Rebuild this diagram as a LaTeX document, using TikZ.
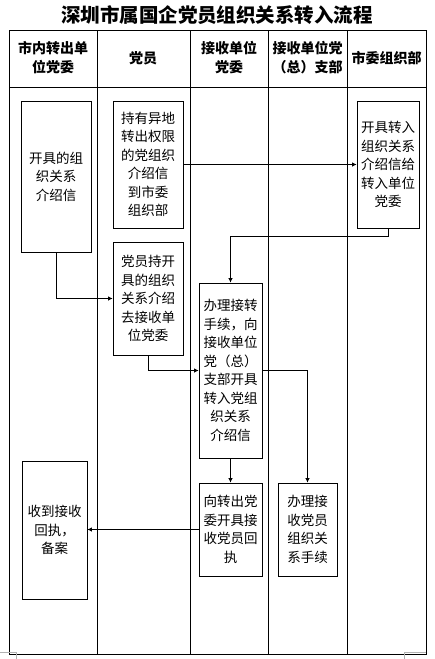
\documentclass[tikz,border=0pt]{standalone}
\usepackage{fontspec}
\setmainfont{Noto Sans CJK SC}
\usetikzlibrary{arrows.meta}
\tikzset{
  box/.style={draw, line width=0.8pt, inner sep=0pt, align=center, font=\fontsize{13.5}{18.5}\selectfont},
  hdr/.style={align=center, font=\bfseries\fontsize{14}{19}\selectfont, inner sep=0pt},
  arr/.style={line width=0.8pt, -{Latex[length=4.5pt,width=4.5pt]}},
  lane/.style={line width=0.8pt},
  cornermark/.style={draw=gray!60, line width=0.5pt}
}
\begin{document}
\begin{tikzpicture}[x=1pt,y=-1pt]
\useasboundingbox (0,0) rectangle (434,659);
\fill[white] (0,0) rectangle (434,659);
% title
\node[font=\bfseries\fontsize{19.5}{22}\selectfont, inner sep=0pt] (title) at (217,15) {深圳市属国企党员组织关系转入流程};
% lanes
\draw[lane] (9,30) rectangle (426,654);
\draw[lane] (9,87) -- (426,87);
\foreach \x in {97,190,268,347} \draw[lane] (\x,30) -- (\x,654);
% headers
\node[hdr] (h1) at (53,58) {市内转出单\\位党委};
\node[hdr] (h2) at (143,58) {党员};
\node[hdr] (h3) at (229,58) {接收单位\\党委};
\node[hdr] (h4) at (307.5,58) {接收单位党\\（总）支部};
\node[hdr] (h5) at (386.5,58) {市委组织部};
% boxes
\node[box, minimum width=70pt, minimum height=151pt] (A) at (56,176.5) {开具的组\\织关系\\介绍信};
\node[box, minimum width=70pt, minimum height=127pt] (B) at (148,164.5) {持有异地\\转出权限\\的党组织\\介绍信\\到市委\\组织部};
\node[box, minimum width=62pt, minimum height=127pt] (C) at (388,164.5) {开具转入\\组织关系\\介绍信给\\转入单位\\党委};
\node[box, minimum width=70pt, minimum height=113pt] (D) at (148,298.5) {党员持开\\具的组织\\关系介绍\\去接收单\\位党委};
\node[box, minimum width=63pt, minimum height=175pt] (E) at (230.5,370.5) {办理接转\\手续，向\\接收单位\\党（总）\\支部开具\\转入党组\\织关系\\介绍信};
\node[box, minimum width=63pt, minimum height=93pt] (F) at (230.5,529.5) {向转出党\\委开具接\\收党员回\\执};
\node[box, minimum width=59pt, minimum height=93pt] (G) at (307.5,529.5) {办理接\\收党员\\组织关\\系手续};
\node[box, minimum width=65pt, minimum height=138pt] (H) at (54.5,530) {收到接收\\回执，\\备案};
% connectors
\draw[arr] (B.east) -- (C.west);
\draw[arr] (C.south) -- ++(0,8) -| (E.north);
\draw[arr] (A.south) |- (D.west);
\draw[arr] (D.south) |- (E.west);
\draw[arr] (E.east) -| (G.north);
\draw[arr] (E.south) -- (F.north);
\draw[arr] (F.west) -- (F.west -| H.east);
% page corner marks
\draw[cornermark] (0,652) -- (16,652) -- (16,659);
\draw[cornermark] (426,652) -- (404,652) -- (404,659);
\end{tikzpicture}
\end{document}
